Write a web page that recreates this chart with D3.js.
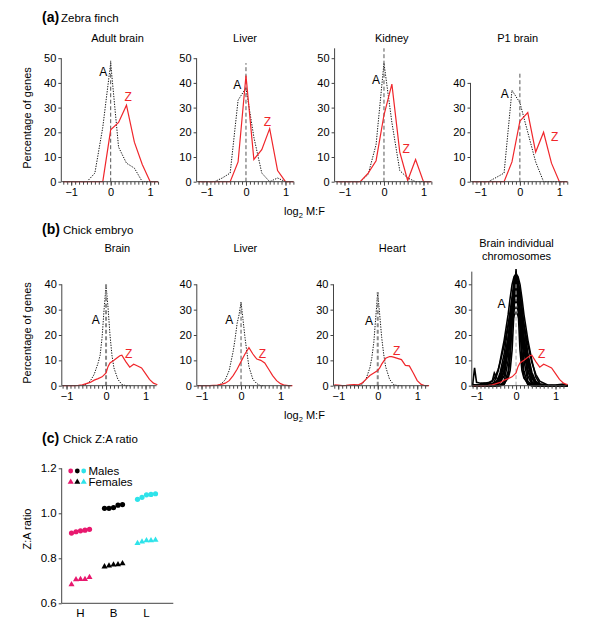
<!DOCTYPE html>
<html><head><meta charset="utf-8">
<script src="https://cdn.jsdelivr.net/npm/d3@7"></script>
<style>
body{margin:0;background:#fff}
svg{display:block}
text{font-family:"Liberation Sans",Arial,Helvetica,sans-serif;fill:#000}
</style>
</head><body>
<svg id="chart" width="600" height="630"></svg>
<script>
// ---------------- DATA ----------------
// (a) Zebra finch, bins of log2 M:F
const zfX = [-1.2,-1.0,-0.8,-0.6,-0.4,-0.2,0,0.2,0.4,0.6,0.8,1.0,1.2];
const zfAdultBrainA = [0,0,0,0,3.5,22,48,14,7.5,5.5,0,0,0];
const zfAdultBrainZ = [0,0,0,0,0,0,21,24,31,16,7,0,0];
const zfLiverA      = [0,0,0,1.5,3.5,33,38,18,3.5,0,1.5,0,0];
const zfLiverZ      = [0,0,0,0,0,8,43,9,13,21.5,4.5,0,0];
const zfKidneyA     = [0,0,0,0,3,15,48,24,4.5,1.5,0,0,0];
const zfKidneyZ     = [0,0,0,0,3.5,8.5,27,39.5,12,0.5,9,0,0];
const zfP1BrainA    = [0,0,0,1.7,3.5,37,32,20,8,0,0,0,0];
const zfP1BrainZ    = [0,0,0,0,0,8,24.5,28,12,20,7.5,0,0];

// (b) Chick embryo
const ceAX = [-0.6,-0.5,-0.4,-0.3,-0.2,-0.15,-0.1,-0.05,0,0.05,0.1,0.15,0.2,0.3,0.4,0.5,0.6];
const ceBrainA = [0,0.5,1.8,4.5,9,12,19,30,39.5,31,20,12,7,2.5,0.5,0,0];
const ceLiverA = [0,0.8,2.3,6,13.5,18.5,24.5,28,33,26,19,13,7.5,2.5,0.8,0,0];
const ceHeartA = [0,0,0.5,2.5,7,11,17,27,36.5,28,19,12.5,7.5,2.5,0.5,0,0];

const ceZX = [-1.1,-1.0,-0.9,-0.8,-0.7,-0.6,-0.5,-0.4,-0.3,-0.2,-0.1,0,0.05,0.1,0.2,0.3,0.35,0.4,0.5,0.6,0.7,0.8,0.9,1.0,1.1,1.2,1.3];
const ceBrainZ = [0,0,0,0,0.1,0.3,0.8,1.3,2.2,2.8,3.5,5,7.5,9,10,11.2,11.8,12,9.5,7.3,8.5,7.8,7,4.8,2.5,1,0.4];
const ceLiverZ = [0,0,0,0,0.1,0.2,0.5,1,2,4,6.5,9.5,11,12.5,15,12.5,11.5,10.5,10,9,6.5,4,2,0.8,0.2,0,0];
const ceHeartZ = [0.3,0.2,0,0.1,0.3,0.4,0.3,1,2.5,4,5,6,7,8.5,10.8,11.5,11.5,11.3,10.8,10.3,8,7.8,5,2,0.5,0,0];

// Brain, individual autosomes
const chrX = [-1.1,-1.05,-1.0,-0.9,-0.8,-0.7,-0.6,-0.55,-0.5,-0.45,-0.4,-0.3,-0.2,-0.15,-0.1,-0.05,0,0.05,0.1,0.15,0.2,0.3,0.4,0.5,0.6,0.8,1.0,1.2,1.3];
const chr1  = [0,0,0,0,0,0,0,0,0,0.2,0.4,1,3,6,14,30,46,31,14,6,3,1,0.4,0.2,0,0,0,0,0];
const chr2  = [0.3,0.2,0.3,0.4,0.5,0.5,0.8,1.5,3.5,6,10,18,28,34.5,40,43,44,43,40,34.5,28,18,10,3.5,0.8,0.2,0,0.1,0.5];
const chr3  = [0,0,0,0,0,0,0,0,0.1,0.1,0.2,1.7,10,18.5,28,37,40,37,28,18.5,10,1.7,0.2,0,0,0,0,0,0];
const chr4  = [0.5,0.4,0.3,0.2,0.2,0.3,0.5,0.6,0.8,1,1.6,6.2,16.5,23,29.5,34.3,36,34.3,29.5,23,16.5,6.2,1.6,0.3,0.1,0,0.2,0.3,0.2];
const chr5  = [0,0,0,0.2,0.3,0.5,0.8,1,1.4,2.5,4.2,10.1,18.8,23.4,27.3,30,31,30,27.3,23.4,18.8,10.1,4.2,1.4,0.4,0,0,0,0];
const chr6  = [0,0,0,0,0,0,0,0,0,0,0,0.5,5.7,13.6,25.5,37,42,37,25.5,13.6,5.7,0.5,0,0,0,0,0,0,0];
const chr7  = [0,0,0,0.5,1,1.2,2,5,3.5,2,1.5,3.8,13.8,21.6,29.5,35.7,38,35.7,29.5,21.6,13.8,3.8,0.6,0.2,0,0,0,0,0];
const chr8  = [0,7,1.3,1,1,0.8,0.6,0.6,0.7,1.5,2.9,8.4,18.5,24,29,32.7,34,32.7,29,24,18.5,8.4,2.9,0.7,0.3,0.2,0.3,0.6,0];
const chr9  = [0,0,0,0,0,0.1,0.2,0.3,0.3,0.5,1.2,6,18.6,26.7,35,41.6,44,41.6,35,26.7,18.6,6,1.2,0.2,0,0,0,0,0];
const chr10 = [0.2,0.2,0.3,0.3,0.5,0.8,1.8,3,4.5,6.5,9.2,16.1,24,27.6,30.4,32.4,33,32.4,30.4,27.6,24,16.1,9.2,4.5,1.8,0.3,0.1,0,0];
const chr11 = [0,0,0,0.1,0.2,0.4,0.6,1,1.7,3,5.3,12.6,23.6,29.4,34.4,37.8,39,37.8,34.4,29.4,23.6,12.6,5.3,1.7,0.5,0.1,0,0,0];
const chr12 = [0,0,0,0,0,0,0,0,0,0,0.1,0.5,4,11,24,39,45,38,23,10,3.5,0.4,0,0,0,0,0,0,0];
const chr13 = [0,0,0,0,0,0.2,0.5,0.8,1.2,2,3.4,8.8,16.9,21,24.9,27.7,29,27.7,24.9,21,16.9,8.8,3.4,1.2,0.3,0,0,0,0];
const chr14 = [0,0,0,0,0,0,0.1,0.2,0.4,0.8,1.6,6,16,22.8,29.8,36.4,40.5,41,37.5,31,23.7,11.4,4,1,0.3,0,0,0,0];
const chromosomes = [chr1,chr2,chr3,chr4,chr5,chr6,chr7,chr8,chr9,chr10,chr11,chr12,chr13,chr14];

// (c) Chick Z:A ratio
const tissues = ["H","B","L"];
const malesH = [0.912,0.918,0.922,0.925,0.929];
const malesB = [1.022,1.022,1.025,1.036,1.039];
const malesL = [1.062,1.071,1.082,1.084,1.087];
const femalesH = [0.684,0.706,0.707,0.707,0.716];
const femalesB = [0.763,0.767,0.771,0.772,0.777];
const femalesL = [0.867,0.874,0.879,0.879,0.881];
const ratioTicks = [0.6,0.8,1.0,1.2];

// ---------------- DRAW ----------------
const svg = d3.select("#chart");
const RED = "#f0262b";
const AX = "#444";
const FONT = 11;

function panel(o){
  const g = svg.append("g");
  const x = d3.scaleLinear().domain(o.xd).range([o.left, o.left + (o.xd[1]-o.xd[0])*39.5]);
  const y = d3.scaleLinear().domain([0, o.ymax]).range([o.y0, o.y0 - o.ymax*o.k]);
  const line = (xs) => d3.line().x((d,i)=>x(xs[i])).y(d=>y(d));
  (o.title).forEach((t,i)=> g.append("text").attr("x", o.tx).attr("y", o.ty + i*13.5)
      .attr("text-anchor","middle").attr("dominant-baseline","central")
      .style("font-size", FONT+"px").text(t));
  (o.A||[]).forEach(s => g.append("path").datum(s.v).attr("d", line(s.x))
      .attr("fill","none").attr("stroke","#111").attr("stroke-width",1)
      .attr("stroke-dasharray","1.3,1.3"));
  (o.chr||[]).forEach(s => g.append("path").datum(s).attr("d", line(chrX))
      .attr("fill","none").attr("stroke","#000").attr("stroke-width",1.6));
  g.append("line").attr("x1",x(0)).attr("x2",x(0)).attr("y1",y(0)).attr("y2",y(o.dashTop))
      .attr("stroke",o.dashColor||"#555").attr("stroke-width",o.dashW||1).attr("stroke-dasharray","4,2.5");
  (o.Z||[]).forEach(s => g.append("path").datum(s.v).attr("d", line(s.x))
      .attr("fill","none").attr("stroke",RED).attr("stroke-width",1.2));
  const yAxis = d3.axisLeft(y).tickValues(d3.range(0, o.ymax+0.1, 10)).tickSize(3).tickPadding(2).tickFormat(d3.format("d"));
  const ga = g.append("g").attr("transform",`translate(${o.left},0)`).call(yAxis);
  ga.select(".domain").attr("d", `M-0,${o.y0}V${y(o.ymax)}`);
  const minor = d3.range(Math.ceil(o.xd[0]*10), Math.floor(o.xd[1]*10)+1).map(d=>d/10);
  const xAxisMinor = d3.axisBottom(x).tickValues(minor).tickSize(3).tickFormat("");
  const gx = g.append("g").attr("transform",`translate(0,${o.y0})`).call(xAxisMinor);
  gx.select(".domain").attr("d", `M${x.range()[0]},0H${x.range()[1]}`);
  const xAxisMajor = d3.axisBottom(x).tickValues([-1,0,1]).tickSize(4).tickPadding(3)
      .tickFormat(d => d<0 ? "\u2212"+Math.abs(d) : d);
  const gx2 = g.append("g").attr("transform",`translate(0,${o.y0})`).call(xAxisMajor);
  gx2.select(".domain").remove();
  [ga,gx,gx2].forEach(a => {
    a.selectAll("path,line").attr("stroke",AX);
    a.selectAll("text").style("font-size",FONT+"px").attr("fill","#000")
      .style("font-family",'"Liberation Sans",Arial,sans-serif');
  });
  g.append("text").attr("x",x(o.aLab[0])).attr("y",y(o.aLab[1])).attr("text-anchor","middle")
    .attr("dominant-baseline","central").style("font-size","12px").text("A");
  g.append("text").attr("x",x(o.zLab[0])).attr("y",y(o.zLab[1])).attr("text-anchor","middle")
    .attr("dominant-baseline","central").style("font-size","12px").style("fill",RED).text("Z");
}

const rowA = {y0:181.7, k:2.47, xd:[-1.25,1.2], ty:37.5};
const rowB = {y0:385.7, k:2.535, xd:[-1.12,1.28], ty:248};

panel({...rowA, left:61.3, ymax:50, dashTop:50, tx:117.5, title:["Adult brain"],
  A:[{x:zfX,v:zfAdultBrainA}], Z:[{x:zfX,v:zfAdultBrainZ}], aLab:[-0.19,44.5], zLab:[0.44,34.2]});
panel({...rowA, left:196.6, ymax:50, dashTop:48, tx:245, title:["Liver"],
  A:[{x:zfX,v:zfLiverA}], Z:[{x:zfX,v:zfLiverZ}], aLab:[-0.22,39], zLab:[0.54,24.3]});
panel({...rowA, left:334.6, ymax:54, dashTop:54, tx:391.7, title:["Kidney"],
  A:[{x:zfX,v:zfKidneyA}], Z:[{x:zfX,v:zfKidneyZ}], aLab:[-0.2,41.2], zLab:[0.56,13.2]});
panel({...rowA, left:470.5, ymax:40, dashTop:44, tx:517.7, title:["P1 brain"],
  A:[{x:zfX,v:zfP1BrainA}], Z:[{x:zfX,v:zfP1BrainZ}], aLab:[-0.38,35.4], zLab:[0.88,18.2]});

panel({...rowB, left:61.8, ymax:40, dashTop:40, dashColor:"#888", dashW:2, tx:117.3, title:["Brain"],
  A:[{x:ceAX,v:ceBrainA}], Z:[{x:ceZX,v:ceBrainZ}], aLab:[-0.26,25.9], zLab:[0.57,12.6]});
panel({...rowB, left:196.8, ymax:40, dashTop:32.5, tx:245.3, title:["Liver"],
  A:[{x:ceAX,v:ceLiverA}], Z:[{x:ceZX,v:ceLiverZ}], aLab:[-0.3,25.9], zLab:[0.54,12.6]});
panel({...rowB, left:333.5, ymax:40, dashTop:37, dashColor:"#888", dashW:2, tx:392.3, title:["Heart"],
  A:[{x:ceAX,v:ceHeartA}], Z:[{x:ceZX,v:ceHeartZ}], aLab:[-0.22,25.6], zLab:[0.48,13.8]});
panel({...rowB, left:471.8, ymax:45, dashTop:40, dashColor:"#aaa", tx:516.5, ty:242.7, title:["Brain individual","chromosomes"],
  chr:chromosomes, Z:[{x:ceZX,v:ceBrainZ}], aLab:[-0.37,32.1], zLab:[0.65,12.7]});

svg.append("text").attr("x",42).attr("y",22).style("font-size","14px").style("font-weight","bold").text("(a)");
svg.append("text").attr("x",61).attr("y",22).style("font-size","11.5px").text("Zebra finch");
svg.append("text").attr("x",42).attr("y",234).style("font-size","14px").style("font-weight","bold").text("(b)");
svg.append("text").attr("x",63).attr("y",234).style("font-size","11.5px").text("Chick embryo");
svg.append("text").attr("x",42).attr("y",443).style("font-size","14px").style("font-weight","bold").text("(c)");
svg.append("text").attr("x",63).attr("y",443).style("font-size","11.5px").text("Chick Z:A ratio");

function xlab(yy){
  const t = svg.append("text").attr("x",284).attr("y",yy).style("font-size","11px");
  t.append("tspan").text("log");
  t.append("tspan").attr("dy",3).style("font-size","7.5px").text("2");
  t.append("tspan").attr("dy",-3).text(" M:F");
}
xlab(215); xlab(419);

function ylab(x0,yc,txt){
  svg.append("text").attr("transform",`translate(${x0},${yc}) rotate(-90)`).attr("text-anchor","middle")
    .attr("dominant-baseline","central").style("font-size","11px").text(txt);
}
ylab(27,118,"Percentage of genes");
ylab(27,333,"Percentage of genes");
ylab(27,529,"Z:A ratio");

// ---------- panel c ----------
const cx = d3.scalePoint().domain(tissues).range([80,146]);
const cy = d3.scaleLinear().domain([0.6,1.2]).range([603.3,468.3]);
const gc = svg.append("g");
const cyAxis = d3.axisLeft(cy).tickValues(ratioTicks).tickSize(3).tickPadding(2).tickFormat(d3.format(".1f"));
const gcy = gc.append("g").attr("transform","translate(61.7,0)").call(cyAxis);
gcy.select(".domain").attr("d","M0,603.3V468.3");
const cxAxis = d3.axisBottom(cx).tickSize(0).tickPadding(6);
const gcx = gc.append("g").attr("transform","translate(0,603.3)").call(cxAxis);
gcx.select(".domain").attr("d","M61.7,0H173.3");
[gcy,gcx].forEach(a=>{a.selectAll("path,line").attr("stroke",AX);
  a.selectAll("text").style("font-size","11.5px").attr("fill","#000").style("font-family",'"Liberation Sans",Arial,sans-serif');});

const cColors = {H:"#e8186e", B:"#000000", L:"#2ee3ea"};
const offs = [-8.5,-4,0.5,5,9.5];
const maleSets = {H:malesH, B:malesB, L:malesL};
const femSets = {H:femalesH, B:femalesB, L:femalesL};
const tri = d3.symbol().type(d3.symbolTriangle).size(16);
tissues.forEach(t=>{
  gc.selectAll(null).data(maleSets[t]).join("circle")
    .attr("cx",(d,i)=>cx(t)+offs[i]).attr("cy",d=>cy(d)).attr("r",2.6).attr("fill",cColors[t]);
  gc.selectAll(null).data(femSets[t]).join("path").attr("d",tri)
    .attr("transform",(d,i)=>`translate(${cx(t)+offs[i]},${cy(d)})`).attr("fill",cColors[t]);
});
const legX = [70.7,77.3,83.7];
tissues.forEach((t,i)=>{
  gc.append("circle").attr("cx",legX[i]).attr("cy",471).attr("r",2.4).attr("fill",cColors[t]);
  gc.append("path").attr("d",tri).attr("transform",`translate(${legX[i]},482)`).attr("fill",cColors[t]);
});
gc.append("text").attr("x",88.5).attr("y",471).attr("dominant-baseline","central").style("font-size","11.5px").text("Males");
gc.append("text").attr("x",88.5).attr("y",482).attr("dominant-baseline","central").style("font-size","11.5px").text("Females");
</script>
</body></html>
